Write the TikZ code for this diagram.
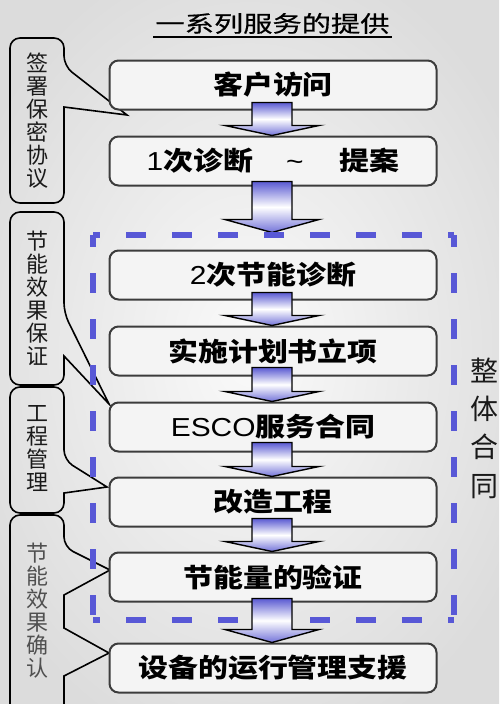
\documentclass[tikz,border=0pt]{standalone}
\usepackage{fontspec}
\usetikzlibrary{calc}
\newfontfamily\cjk{Noto Sans CJK SC}
\newfontfamily\cjkbox[FakeStretch=1.15]{Noto Sans CJK SC}
\newfontfamily\latbox[FakeStretch=1.15]{Liberation Sans}
\newfontfamily\cjktitle[FakeStretch=1.3,FakeBold=0.6]{Noto Sans CJK SC}
\definecolor{bgin}{HTML}{FAFAFA}
\definecolor{bgout}{HTML}{DCDCDC}
\definecolor{boxline}{HTML}{3C3C3C}
\definecolor{boxfill}{HTML}{F4F4F4}
\definecolor{dashblue}{HTML}{5858D6}
\definecolor{arrowblue}{HTML}{5A5AD2}
\definecolor{graytext}{HTML}{505050}
\definecolor{darktext}{HTML}{1A1A1A}
\tikzset{
 stepbox/.style={draw=boxline, line width=2pt, rounded corners=9pt, fill=boxfill,
   minimum width=327pt, minimum height=49pt, inner sep=0pt,
   font=\cjkbox\bfseries\fontsize{26}{28}\selectfont},
 calloutshape/.style={draw=black, line width=1.6pt, rounded corners=10pt},
 callouttext/.style={align=center, inner sep=0pt, text=darktext, font=\cjk\fontsize{22}{23}\selectfont},
 blockarrow/.style={draw=black, line width=1.4pt, top color=arrowblue, bottom color=arrowblue!85, middle color=white, line join=miter},
 dashside/.style={draw=dashblue, line width=6pt, line cap=square, dash pattern=on 20pt off 26pt},
}
\newcommand\lat[1]{{\latbox\mdseries #1}}
% #1 upper node, #2 lower node, #3 shaft overlap, #4 head height, #5 tip offset above lower node
\newcommand\blockarr[5]{%
 \path[blockarrow] let \p1=(#1.south), \p2=(#2.north) in
  (\x1-21pt,\y1+#3pt) -- (\x1+19pt,\y1+#3pt) -- (\x1+19pt,\y2+#5pt+#4pt)
  -- (\x1+46pt,\y2+#5pt+#4pt) -- (\x1-1pt,\y2+#5pt) -- (\x1-48pt,\y2+#5pt+#4pt)
  -- (\x1-21pt,\y2+#5pt+#4pt) -- cycle;}
\begin{document}
\begin{tikzpicture}[x=1pt,y=-1pt]
\useasboundingbox (0,0) rectangle (499,704);
\clip (0,0) rectangle (499,704);
\shade[inner color=bgin, outer color=bgout] (-60,-60) rectangle (559,764);

% title
\node[font=\cjktitle\fontsize{22.5}{24}\selectfont, inner sep=0pt, anchor=base] (title) at (272.5,32) {一系列服务的提供};
\draw[line width=1.8pt] ($(title.base west)+(-2,5)$) -- ($(title.base east)+(2,5)$);

% callout pointer tips
\coordinate (t1) at (127,115);
\coordinate (t2) at (109,404);
\coordinate (t3) at (107,487);
\coordinate (t4) at (110,570);
\coordinate (t5) at (109,653);

% callouts
\draw[calloutshape] (37,38) -- (64,38) -- (64,66) [sharp corners] -- (t1) -- (64,107)
  [rounded corners=10pt] -- (64,203) -- (10,203) -- (10,38) -- cycle;
\draw[calloutshape] (37,212) -- (64,212) -- (64,313) [sharp corners] -- (t2) -- (64,356)
  [rounded corners=10pt] -- (64,385) -- (10,385) -- (10,212) -- cycle;
\draw[calloutshape] (37,387) -- (64,387) -- (64,460) [sharp corners] -- (t3) -- (64,493)
  [rounded corners=10pt] -- (64,513) -- (10,513) -- (10,387) -- cycle;
\draw[calloutshape] (37,515) -- (64,515) -- (64,547) [sharp corners] -- (t4) -- (64,595)
  -- (64,628) -- (t5) -- (64,676) [rounded corners=10pt] -- (64,716) -- (10,716) -- (10,515) -- cycle;

\node[callouttext] (c1) at (37,121) {签\\署\\保\\密\\协\\议};
\node[callouttext] (c2) at (37,298.5) {节\\能\\效\\果\\保\\证};
\node[callouttext] (c3) at (37,449) {工\\程\\管\\理};
\node[callouttext, text=graytext] (c4) at (37,611) {节\\能\\效\\果\\确\\认};

% main boxes
\node[stepbox] (b1) at (273,85) {客户访问};
\node[stepbox] (b2) at (273,161) {\lat{1}次诊断\hspace{33pt}\lat{\textasciitilde}\hspace{36pt}提案};
\node[stepbox] (b3) at (273,275) {\lat{2}次节能诊断};
\node[stepbox] (b4) at (273,351) {实施计划书立项};
\node[stepbox] (b5) at (273,427) {\lat{ESCO}服务合同};
\node[stepbox] (b6) at (273,502) {改造工程};
\node[stepbox] (b7) at (273,577) {节能量的验证};
\node[stepbox] (b8) at (273,668) {设备的运行管理支援};

% block arrows
\blockarr{b1}{b2}{8}{10}{0}
\blockarr{b2}{b3}{5}{13}{17}

% dashed frame
\coordinate (dtl) at (93,235);
\coordinate (dtr) at (454,235);
\coordinate (dbl) at (93,620);
\coordinate (dbr) at (454,620);
\draw[dashside, dash phase=13pt] (dtl) -- (dtr);
\draw[dashside, dash phase=8pt] (dtl) -- (dbl);
\draw[dashside, dash phase=8pt] (dtr) -- (dbr);
\draw[dashside, dash phase=13pt] (dbl) -- (dbr);

\blockarr{b3}{b4}{8}{10}{0}
\blockarr{b4}{b5}{9}{10}{0}
\blockarr{b5}{b6}{10}{10}{0}
\blockarr{b6}{b7}{9}{10}{0}
\blockarr{b7}{b8}{4}{13}{0}

% right label
\node[font=\cjk\fontsize{28}{38.3}\selectfont, align=center, inner sep=0pt, text=darktext] (whole) at (484,428) {整\\体\\合\\同};
\end{tikzpicture}
\end{document}
